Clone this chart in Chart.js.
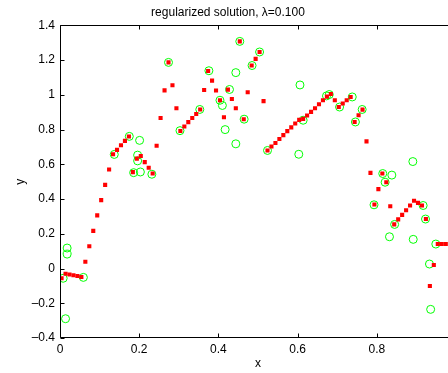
<!DOCTYPE html>
<html>
<head>
<meta charset="utf-8">
<script src="https://cdn.jsdelivr.net/npm/chart.js@4/dist/chart.umd.min.js"></script>
<style>
  html, body { margin: 0; padding: 0; background: #fff; overflow: hidden; }
  #wrap { width: 516px; height: 373px; }
</style>
</head>
<body>
<div id="wrap"><canvas id="plot" width="516" height="373"></canvas></div>
<script>
// regularized solution (red squares)
const solX = [
  0.004, 0.014, 0.024, 0.034, 0.044, 0.054, 0.064, 0.074, 0.084, 0.094,
  0.104, 0.114, 0.124, 0.134, 0.144, 0.154, 0.164, 0.174, 0.184, 0.194,
  0.204, 0.214, 0.224, 0.234, 0.244, 0.254, 0.264, 0.274, 0.284, 0.294,
  0.304, 0.314, 0.324, 0.334, 0.344, 0.354, 0.364, 0.374, 0.384, 0.394,
  0.404, 0.414, 0.424, 0.434, 0.444, 0.454, 0.464, 0.474, 0.484, 0.494,
  0.504, 0.514, 0.524, 0.534, 0.544, 0.554, 0.564, 0.574, 0.584, 0.594,
  0.604, 0.614, 0.624, 0.634, 0.644, 0.654, 0.664, 0.674, 0.684, 0.694,
  0.704, 0.714, 0.724, 0.734, 0.744, 0.754, 0.764, 0.774, 0.784, 0.794,
  0.804, 0.814, 0.824, 0.834, 0.844, 0.854, 0.864, 0.874, 0.884, 0.894,
  0.904, 0.914, 0.924, 0.934, 0.944, 0.954, 0.964, 0.974, 0.984, 0.994
];
const solY = [
  -0.056, -0.030, -0.034, -0.039, -0.043, -0.049, 0.039, 0.128, 0.217, 0.306,
  0.394, 0.482, 0.570, 0.658, 0.683, 0.710, 0.735, 0.760, 0.555, 0.633,
  0.648, 0.613, 0.580, 0.547, 0.707, 0.867, 1.026, 1.187, 1.055, 0.923,
  0.792, 0.818, 0.843, 0.867, 0.890, 0.916, 1.028, 1.137, 1.082, 1.025,
  0.969, 0.871, 1.030, 0.976, 0.923, 1.308, 0.860, 1.015, 1.169, 1.207,
  1.247, 0.964, 0.680, 0.703, 0.723, 0.746, 0.768, 0.791, 0.813, 0.835,
  0.856, 0.862, 0.881, 0.902, 0.923, 0.946, 0.969, 0.990, 1.005, 0.969,
  0.930, 0.950, 0.969, 0.988, 0.844, 0.883, 0.915, 0.732, 0.551, 0.369,
  0.457, 0.547, 0.497, 0.359, 0.254, 0.283, 0.309, 0.336, 0.363, 0.390,
  0.378, 0.363, 0.285, -0.101, 0.020, 0.141, 0.141, 0.141, 0.141, 0.141
];

// noisy samples (green circles)
const dataX = [
  0.008, 0.014, 0.018, 0.018, 0.059, 0.137, 0.175, 0.186, 0.196, 0.196,
  0.201, 0.203, 0.232, 0.274, 0.303, 0.353, 0.376, 0.404, 0.410, 0.417,
  0.428, 0.444, 0.444, 0.454, 0.465, 0.485, 0.504, 0.524, 0.603, 0.606,
  0.614, 0.673, 0.680, 0.706, 0.738, 0.746, 0.763, 0.793, 0.815, 0.821,
  0.832, 0.838, 0.845, 0.891, 0.892, 0.917, 0.923, 0.933, 0.936, 0.949
];
const dataY = [
  -0.056, -0.289, 0.083, 0.118, -0.051, 0.657, 0.761, 0.552, 0.620, 0.653,
  0.738, 0.556, 0.543, 1.187, 0.794, 0.916, 1.139, 0.969, 0.939, 0.800,
  1.031, 1.128, 0.718, 1.308, 0.860, 1.169, 1.247, 0.680, 0.658, 1.057,
  0.854, 0.994, 1.002, 0.930, 0.988, 0.844, 0.916, 0.367, 0.547, 0.497,
  0.183, 0.538, 0.254, 0.616, 0.168, 0.363, 0.285, 0.026, -0.235, 0.141
];

const xTicks = [0, 0.2, 0.4, 0.6, 0.8, 1];
const yTicks = [-0.4, -0.2, 0, 0.2, 0.4, 0.6, 0.8, 1, 1.2, 1.4];

const FONT = { family: '"Liberation Sans", Arial, Helvetica, sans-serif', size: 12 };

function fmt(v) {
  const r = Math.round(v * 10) / 10;
  return r < 0 ? '\u2013' + Math.abs(r) : String(r);
}

// box around the axes with inward tick marks on all four sides
const axesBox = {
  id: 'axesBox',
  afterDatasetsDraw(chart) {
    const { ctx, chartArea: a, scales: { x, y } } = chart;
    const L = Math.round(a.left) + 0.5, R = Math.round(a.right) - 0.5;
    const T = Math.round(a.top) + 0.5, B = Math.round(a.bottom) - 0.5;
    const len = 4;
    ctx.save();
    ctx.strokeStyle = '#000';
    ctx.lineWidth = 1;
    ctx.beginPath();
    ctx.rect(L, T, R - L, B - T);
    xTicks.forEach(v => {
      const px = Math.round(x.getPixelForValue(v)) + 0.5;
      ctx.moveTo(px, B); ctx.lineTo(px, B - len);
      ctx.moveTo(px, T); ctx.lineTo(px, T + len);
    });
    yTicks.forEach(v => {
      const py = Math.round(y.getPixelForValue(v)) + 0.5;
      ctx.moveTo(L, py); ctx.lineTo(L + len, py);
      ctx.moveTo(R, py); ctx.lineTo(R - len, py);
    });
    ctx.stroke();
    ctx.restore();
  }
};

new Chart(document.getElementById('plot'), {
  type: 'scatter',
  data: {
    datasets: [{
      data: solX.map((v, i) => ({ x: v, y: solY[i] })),
      pointStyle: 'rect',
      pointRadius: 2.9,
      backgroundColor: '#ff0000',
      borderWidth: 0
    }, {
      data: dataX.map((v, i) => ({ x: v, y: dataY[i] })),
      pointStyle: 'circle',
      pointRadius: 4,
      borderColor: '#00ff00',
      borderWidth: 1,
      backgroundColor: 'rgba(0,0,0,0)'
    }]
  },
  options: {
    responsive: false,
    animation: false,
    layout: { padding: { left: 0, right: 60, top: 0, bottom: 0 } },
    plugins: {
      legend: { display: false },
      tooltip: { enabled: false },
      title: {
        display: true,
        text: 'regularized solution, \u03bb=0.100',
        color: '#000',
        font: { ...FONT, weight: 'normal' },
        padding: { top: 5, bottom: 6 }
      }
    },
    scales: {
      x: {
        type: 'linear',
        min: 0,
        max: 1,
        afterFit: s => { s.height = 35; },
        afterBuildTicks: s => { s.ticks = xTicks.map(v => ({ value: v })); },
        ticks: { color: '#000', font: FONT, padding: 4, callback: fmt, maxRotation: 0 },
        grid: { display: false, drawTicks: false },
        border: { display: false },
        title: { display: true, text: 'x', color: '#000', font: FONT, padding: { top: 0, bottom: 2 } }
      },
      y: {
        type: 'linear',
        min: -0.4,
        max: 1.4,
        afterFit: s => { s.width = 60; },
        afterBuildTicks: s => { s.ticks = yTicks.map(v => ({ value: v })); },
        ticks: { color: '#000', font: FONT, padding: 5, callback: fmt },
        grid: { display: false, drawTicks: false },
        border: { display: false },
        title: { display: true, text: 'y', color: '#000', font: FONT, padding: { top: 13, bottom: 0 } }
      }
    }
  },
  plugins: [axesBox]
});
</script>
</body>
</html>
